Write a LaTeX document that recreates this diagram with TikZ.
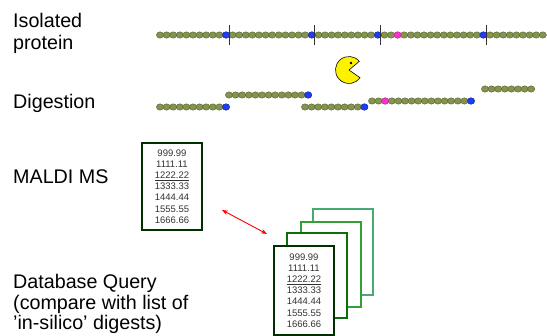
\documentclass[tikz,border=0pt]{standalone}
\usepackage{fontspec}
\setmainfont{Liberation Sans}
\usetikzlibrary{arrows.meta}

\definecolor{beadgreen}{RGB}{132,148,78}
\definecolor{beadedge}{RGB}{84,96,44}
\definecolor{siteblue}{RGB}{30,60,250}
\definecolor{sitepink}{RGB}{250,50,200}
\definecolor{listA}{RGB}{0,48,0}
\definecolor{listB}{RGB}{10,110,10}
\definecolor{listC}{RGB}{50,160,50}
\definecolor{listD}{RGB}{70,170,115}

\begin{document}
\begin{tikzpicture}[x=1pt, y=-1pt,
    bead/.style={fill=beadgreen, draw=beadedge, line width=0.4pt},
    kbead/.style={fill=siteblue, draw=siteblue!70!black, line width=0.4pt},
    pbead/.style={fill=sitepink, draw=sitepink!80!black, line width=0.4pt},
    cutline/.style={draw=black!80, line width=0.8pt},
    steplabel/.style={anchor=north west, inner sep=0pt, align=left,
        font=\fontsize{19.7}{20.5}\selectfont},
    masslist/.style={draw=#1, fill=white, line width=1.6pt, minimum width=60pt,
        minimum height=87pt, inner sep=0pt, align=center, text=black!80,
        font=\fontsize{9.5}{11.2}\selectfont}]
    \useasboundingbox (0,0) rectangle (547,336);

    % Step labels down the left side
    \node[steplabel, font=\fontsize{19.7}{22}\selectfont] (isolated) at (13,13) {Isolated\\protein};
    \node[steplabel] (digestion) at (13,94) {Digestion};
    \node[steplabel] (maldi) at (13,170) {MALDI MS};
    \node[steplabel] (query) at (13,274.5) {Database Query\\(compare with list of\\'in-silico' digests)};

    % Intact protein chain
    \foreach \i in {0,...,58}
        \filldraw[bead] (160+6.6*\i,35) ellipse [x radius=3.6pt, y radius=3.2pt];
    \foreach \i in {10,23,33,49} {
        \filldraw[kbead] (160+6.6*\i,35) ellipse [x radius=3.6pt, y radius=3.2pt];
        \draw[cutline] (163+6.6*\i,25) -- (163+6.6*\i,45); % cleavage site
    }
    \filldraw[pbead] (160+6.6*36,35) ellipse [x radius=3.6pt, y radius=3.2pt];

    % Peptides after digestion (start x / y / number of beads)
    \foreach \xa/\ya/\n in {160/107/11, 229/95/13, 305/107/10, 372/101/16, 485/89/8}
        \foreach \i in {1,...,\n}
            \filldraw[bead] (\xa+6.6*\i-6.6,\ya) ellipse [x radius=3.6pt, y radius=3.2pt];
    \foreach \xa/\ya/\n in {160/107/11, 229/95/13, 305/107/10, 372/101/16}
        \filldraw[kbead] (\xa+6.6*\n-6.6,\ya) ellipse [x radius=3.6pt, y radius=3.2pt];
    \filldraw[pbead] (372+6.6*2,101) ellipse [x radius=3.6pt, y radius=3.2pt];

    % Protease chewing on the chain
    \coordinate (P) at (349,70);
    \filldraw[fill=yellow, draw=black, line width=0.6pt]
        (P) -- ++(40:13.5pt) arc[start angle=40, end angle=325, radius=13.5pt] -- cycle;
    \fill[black] (351,63) circle (1.3pt);

    % Measured peak list
    \node[masslist=listA] (measured) at (172,186.5)
        {999.99\\1111.11\\\underline{1222.22}\\1333.33\\1444.44\\1555.55\\1666.66};

    % Stack of in-silico digests, back to front
    \node[masslist=listD, minimum height=86pt] (digest4) at (343,252) {};
    \node[masslist=listC, minimum height=85pt] (digest3) at (331,264.5) {};
    \node[masslist=listB, minimum height=85pt] (digest2) at (317,275.5) {};
    \node[masslist=listA, minimum height=89pt] (digest1) at (304,290.5)
        {999.99\\1111.11\\\underline{1222.22}\\1333.33\\1444.44\\1555.55\\1666.66};

    % Comparison arrow
    \coordinate (cmpA) at (222,210);
    \coordinate (cmpB) at (267,234);
    \draw[red, line width=0.9pt, {Stealth[length=6pt]}-{Stealth[length=6pt]}] (cmpA) -- (cmpB);
\end{tikzpicture}
\end{document}
